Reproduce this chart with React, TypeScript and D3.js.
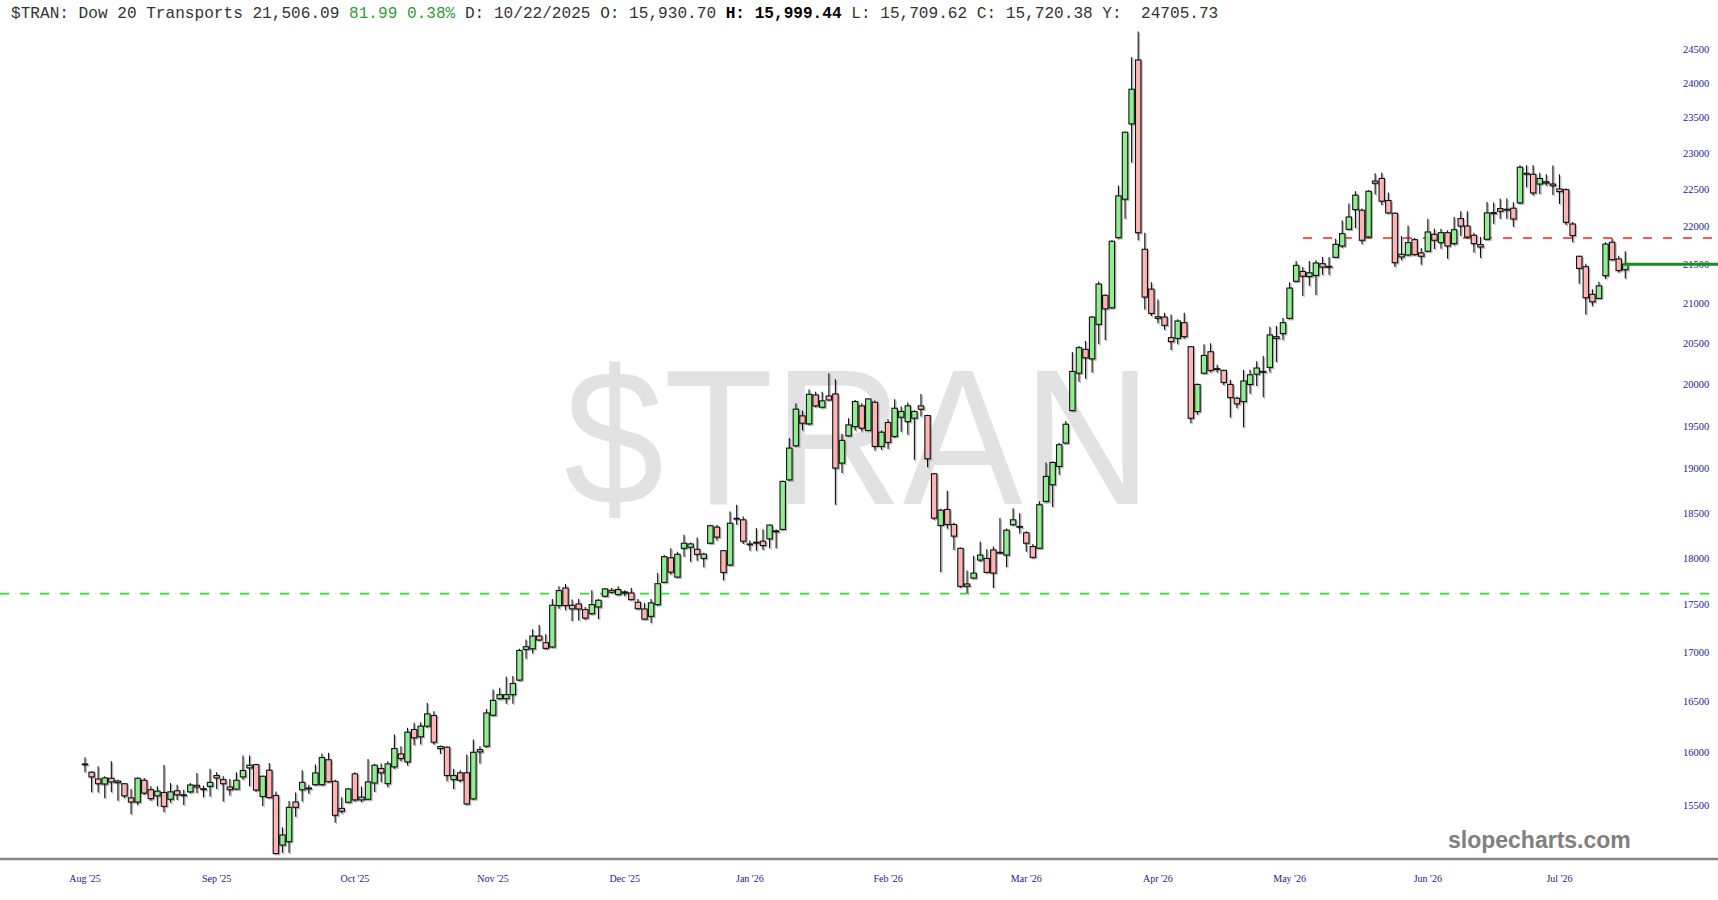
import * as d3 from "d3";
import { useEffect, useRef } from "react";

// daily OHLC, oldest first
const opens = [
  15890, 15811, 15746, 15698, 15753, 15727, 15701, 15567, 15528, 15734,
  15644, 15586, 15618, 15554, 15634, 15596, 15624, 15686, 15653, 15676,
  15779, 15740, 15670, 15650, 15766, 15852, 15884, 15580, 15830, 15589,
  15128, 15160, 15528, 15644, 15660, 15692, 15692, 15930.7, 15724, 15468,
  15526, 15795, 15548, 15554, 15708, 15846, 15702, 15862, 15987, 15910,
  16225, 16154, 16258, 16363, 16039, 16052, 15740, 15805, 15805, 15558,
  16007, 16062, 16366, 16531, 16531, 16571, 16718, 17031, 17038, 17170,
  17101, 17056, 17490, 17677, 17493, 17507, 17447, 17404, 17475, 17589,
  17652, 17607, 17624, 17624, 17525, 17454, 17376, 17500, 17737, 18004,
  17794, 18107, 18118, 18096, 17996, 18163, 18341, 18081, 17925, 18439,
  18422, 18155, 18163, 18185, 18211, 18289, 18315, 18873, 19267, 19619,
  19524, 19869, 19722, 19857, 19881, 19066, 19384, 19492, 19738, 19446,
  19781, 19259, 19540, 19376, 19603, 19551, 19591, 19738, 19623, 18943,
  18359, 18538, 18370, 18107, 17695, 17784, 17979, 17996, 18089, 18063,
  18033, 18367, 18348, 18278, 18126, 18107, 18629, 18818, 19027, 19298,
  19682, 20133, 20425, 20308, 20737, 21105, 20946, 21855, 22370, 23414,
  24338, 21701, 21184, 20813, 20829, 20571, 20562, 20758, 20458, 19670,
  20133, 20396, 20188, 20167, 19996, 19830, 19790, 19996, 20121, 20154,
  20204, 20562, 20621, 20812, 21285, 21412, 21346, 21360, 21513, 21478,
  21596, 21745, 21965, 22230, 22221, 21864, 22617, 22653, 22352, 22180,
  21601, 21627, 21829, 21654, 21676, 21899, 21789, 21921, 21776, 22108,
  22009, 21886, 21763, 21833, 22176, 22243, 22234, 22248, 22320, 22723,
  22710, 22576, 22607, 22576, 22509, 22500, 22036, 21610, 21474, 21117,
  21065, 21357, 21794, 21575, 21435,
];

const highs = [
  15955, 15820, 15868, 15773, 15916, 15740, 15708, 15650, 15760, 15756,
  15676, 15676, 15881, 15708, 15692, 15644, 15708, 15804, 15682, 15843,
  15811, 15772, 15746, 15811, 15971, 15971, 15891, 15779, 15900, 15628,
  15292, 15538, 15618, 15830, 15692, 15884, 15990, 15999.44, 15740, 15574,
  15660, 15811, 15676, 15939, 15891, 15894, 15917, 16176, 16062, 16242,
  16291, 16297, 16487, 16405, 16069, 16062, 15843, 15830, 15981, 16128,
  16062, 16428, 16623, 16640, 16752, 16759, 17038, 17135, 17240, 17285,
  17188, 17560, 17695, 17720, 17553, 17560, 17475, 17653, 17560, 17677,
  17677, 17695, 17653, 17677, 17560, 17518, 17560, 17837, 18033, 18107,
  18070, 18255, 18170, 18226, 18059, 18367, 18367, 18089, 18515, 18591,
  18459, 18192, 18330, 18318, 18370, 18315, 18867, 19357, 19770, 19682,
  19936, 19909, 19909, 20133, 20058, 19407, 19591, 19809, 19770, 19829,
  19801, 19446, 19579, 19817, 19730, 19777, 19690, 19881, 19631, 18951,
  18545, 18750, 18389, 18115, 17865, 18026, 18181, 18096, 18126, 18441,
  18326, 18551, 18496, 18296, 18155, 18629, 19073, 19085, 19298, 19559,
  20392, 20467, 20529, 20842, 21281, 21118, 21820, 22557, 23305, 24377,
  24760, 21921, 21272, 21053, 20883, 20862, 20800, 20883, 20467, 20008,
  20488, 20500, 20237, 20175, 20050, 19849, 20175, 20175, 20279, 20342,
  20708, 20717, 20821, 21272, 21548, 21469, 21548, 21557, 21601, 21601,
  21842, 22086, 22311, 22478, 22243, 22491, 22723, 22732, 22460, 22194,
  21877, 22018, 21851, 21719, 22108, 21974, 21974, 21952, 22130, 22207,
  22207, 21921, 21864, 22333, 22324, 22378, 22378, 22329, 22835, 22835,
  22835, 22732, 22709, 22830, 22709, 22518, 22068, 21618, 21513, 21183,
  21278, 21794, 21847, 21618, 21676,
];

const lows = [
  15811, 15621, 15618, 15564, 15621, 15541, 15564, 15413, 15500, 15596,
  15541, 15490, 15431, 15522, 15548, 15500, 15612, 15612, 15573, 15580,
  15650, 15532, 15589, 15641, 15740, 15676, 15628, 15490, 15564, 15051,
  15058, 15058, 15391, 15532, 15605, 15682, 15682, 15709.62, 15334, 15420,
  15516, 15532, 15526, 15548, 15622, 15715, 15667, 15843, 15917, 15875,
  16072, 16078, 16242, 16078, 15987, 15724, 15651, 15715, 15500, 15548,
  15894, 16046, 16356, 16520, 16480, 16480, 16708, 16935, 16990, 17118,
  17031, 17049, 17455, 17440, 17327, 17333, 17340, 17393, 17347, 17582,
  17617, 17596, 17589, 17546, 17447, 17340, 17305, 17489, 17730, 17819,
  17784, 18015, 17961, 17972, 17901, 18155, 18192, 17759, 17915, 18367,
  18155, 18081, 18081, 18089, 18107, 18107, 18307, 18867, 19259, 19446,
  19512, 19722, 19710, 19802, 18591, 18951, 19376, 19446, 19438, 19438,
  19213, 19221, 19229, 19357, 19430, 19396, 19105, 19611, 19019, 18422,
  17848, 18322, 18089, 17677, 17624, 17773, 17961, 17837, 17677, 18052,
  17901, 18360, 18270, 18070, 17996, 18100, 18618, 18565, 18932, 19290,
  19674, 20029, 20067, 20142, 20488, 20542, 20933, 21842, 22108, 22873,
  21820, 20925, 20842, 20750, 20667, 20417, 20488, 20558, 19532, 19631,
  20125, 20142, 20142, 19988, 19599, 19710, 19484, 19884, 19976, 19841,
  20142, 20271, 20541, 20800, 21272, 21096, 21228, 21109, 21368, 21368,
  21588, 21723, 21960, 21982, 21767, 21851, 22433, 22293, 22171, 21469,
  21557, 21614, 21618, 21500, 21667, 21706, 21710, 21579, 21754, 21877,
  21842, 21658, 21588, 21820, 22040, 22108, 22108, 22000, 22306, 22531,
  22419, 22441, 22553, 22428, 22306, 22023, 21794, 21252, 20862, 20967,
  21061, 21313, 21553, 21400, 21322,
];

const closes = [
  15890, 15766, 15701, 15756, 15718, 15711, 15586, 15528, 15753, 15612,
  15560, 15631, 15487, 15624, 15596, 15596, 15689, 15670, 15653, 15714,
  15756, 15701, 15644, 15734, 15827, 15878, 15641, 15772, 15570, 15051,
  15221, 15478, 15478, 15714, 15660, 15804, 15952, 15720.38, 15404, 15442,
  15651, 15548, 15574, 15718, 15878, 15805, 15891, 16039, 15942, 16199,
  16144, 16258, 16379, 16101, 16059, 15779, 15779, 15734, 15510, 16003,
  16029, 16389, 16514, 16571, 16571, 16684, 17021, 17059, 17170, 17129,
  17042, 17493, 17649, 17490, 17455, 17454, 17358, 17500, 17546, 17667,
  17631, 17660, 17635, 17553, 17457, 17347, 17518, 17723, 18015, 17847,
  18041, 18163, 18155, 18041, 18044, 18356, 18230, 17844, 18384, 18439,
  18185, 18155, 18174, 18137, 18363, 18300, 18855, 19240, 19699, 19532,
  19877, 19738, 19798, 19809, 19008, 19330, 19512, 19790, 19473, 19821,
  19259, 19426, 19306, 19710, 19671, 19738, 19671, 19698, 19116, 18441,
  18530, 18370, 18241, 17695, 17720, 17837, 18033, 17844, 17837, 18063,
  18307, 18422, 18348, 18163, 18008, 18591, 18913, 19073, 19279, 19520,
  20154, 20446, 20321, 20829, 21250, 20933, 21807, 22415, 23295, 23910,
  21921, 21083, 20875, 20833, 20725, 20521, 20779, 20583, 19591, 19996,
  20350, 20167, 20188, 20021, 19838, 19762, 20038, 20113, 20196, 20154,
  20604, 20583, 20758, 21198, 21491, 21351, 21395, 21522, 21469, 21478,
  21767, 21908, 22130, 22424, 21820, 22478, 22587, 22343, 22185, 21526,
  21636, 21789, 21632, 21610, 21930, 21820, 21921, 21745, 21960, 22009,
  21864, 21776, 21732, 22185, 22189, 22207, 22234, 22104, 22808, 22723,
  22455, 22652, 22589, 22553, 22473, 22059, 21882, 21452, 21074, 21022,
  21226, 21770, 21566, 21424.1, 21506.09,
];

// x-axis month labels and the candle index each sits on
const monthLabels = ["Aug '25", "Sep '25", "Oct '25", "Nov '25", "Dec '25", "Jan '26", "Feb '26", "Mar '26", "Apr '26", "May '26", "Jun '26", "Jul '26"];
const monthStartIdx = [0, 20, 41, 62, 82, 101, 122, 143, 163, 183, 204, 224];

const priceTicks = [15500, 16000, 16500, 17000, 17500, 18000, 18500, 19000, 19500, 20000, 20500, 21000, 21500, 22000, 22500, 23000, 23500, 24000, 24500];

const supportLevel = 17617;
const resistanceLevel = 21850;
const lastPrice = 21506.09;

export default function App() {
  const ref = useRef<SVGSVGElement | null>(null);

  useEffect(() => {
    if (!ref.current) return;

    const width = 1718;
    const height = 900;
    const svg = d3.select(ref.current);
    svg.selectAll("*").remove();

    const x = d3.scaleLinear().domain([0, closes.length - 1]).range([85, 1625.3]);
    const y = d3.scaleLog().domain([15500, 24500]).range([805, 49]);
    const bw = 5.4; // body width
    const sh = 1.3; // shadow offset

    svg.append("rect").attr("width", width).attr("height", height).attr("fill", "#fff");

    // watermark
    svg
      .append("text")
      .attr("x", 564)
      .attr("y", 504)
      .attr("font-family", "'Liberation Sans', Arial, sans-serif")
      .attr("font-size", 193)
      .attr("fill", "#e2e2e2")
      .attr("textLength", 588)
      .attr("lengthAdjust", "spacingAndGlyphs")
      .text("$TRAN");

    // support / resistance lines
    svg
      .append("line")
      .attr("x1", 0)
      .attr("x2", 1713)
      .attr("y1", y(supportLevel))
      .attr("y2", y(supportLevel))
      .attr("stroke", "#33dd33")
      .attr("stroke-width", 1.6)
      .attr("stroke-dasharray", "9,11");

    svg
      .append("line")
      .attr("x1", 1303)
      .attr("x2", 1713)
      .attr("y1", y(resistanceLevel))
      .attr("y2", y(resistanceLevel))
      .attr("stroke", "#ff2020")
      .attr("stroke-width", 1.4)
      .attr("stroke-dasharray", "9,11");

    // price labels
    svg
      .append("g")
      .selectAll("text")
      .data(priceTicks)
      .join("text")
      .attr("x", 1683)
      .attr("y", (d) => y(d))
      .attr("dy", "0.35em")
      .attr("font-family", "'Liberation Serif', 'Times New Roman', serif")
      .attr("font-size", 10.5)
      .attr("fill", "#1a1a8e")
      .text((d) => String(d));

    const idx = d3.range(closes.length);
    const up = (i: number) => closes[i] >= opens[i];
    const top = (i: number) => y(Math.max(opens[i], closes[i]));
    const bh = (i: number) => Math.max(y(Math.min(opens[i], closes[i])) - top(i), 0.8);

    // shadows
    const shadow = svg.append("g").attr("opacity", 0.55);
    shadow
      .selectAll("line")
      .data(idx)
      .join("line")
      .attr("x1", (i) => x(i) + sh)
      .attr("x2", (i) => x(i) + sh)
      .attr("y1", (i) => y(highs[i]) + sh)
      .attr("y2", (i) => y(lows[i]) + sh)
      .attr("stroke", "#777")
      .attr("stroke-width", 1.2);
    shadow
      .selectAll("rect")
      .data(idx)
      .join("rect")
      .attr("x", (i) => x(i) - bw / 2 + sh)
      .attr("y", (i) => top(i) + sh)
      .attr("width", bw)
      .attr("height", bh)
      .attr("fill", "#777")
      .attr("stroke", "#777")
      .attr("stroke-width", 1);

    // wicks
    svg
      .append("g")
      .selectAll("line")
      .data(idx)
      .join("line")
      .attr("x1", (i) => x(i))
      .attr("x2", (i) => x(i))
      .attr("y1", (i) => y(highs[i]))
      .attr("y2", (i) => y(lows[i]))
      .attr("stroke", "#111")
      .attr("stroke-width", 1.1);

    // bodies
    svg
      .append("g")
      .selectAll("rect")
      .data(idx)
      .join("rect")
      .attr("x", (i) => x(i) - bw / 2)
      .attr("y", top)
      .attr("width", bw)
      .attr("height", bh)
      .attr("fill", (i) => (up(i) ? "#90ee90" : "#ffb4b4"))
      .attr("stroke", "#111")
      .attr("stroke-width", 1.1);

    // last price line
    svg
      .append("line")
      .attr("x1", x(closes.length - 1) - 2)
      .attr("x2", width)
      .attr("y1", y(lastPrice))
      .attr("y2", y(lastPrice))
      .attr("stroke", "#1c8c1c")
      .attr("stroke-width", 3);

    // bottom axis line and month labels
    svg
      .append("line")
      .attr("x1", 0)
      .attr("x2", width)
      .attr("y1", 859)
      .attr("y2", 859)
      .attr("stroke", "#858585")
      .attr("stroke-width", 2.5);

    svg
      .append("g")
      .selectAll("text")
      .data(monthLabels)
      .join("text")
      .attr("x", (_, k) => x(monthStartIdx[k]))
      .attr("y", 878)
      .attr("dy", "0.35em")
      .attr("text-anchor", "middle")
      .attr("font-family", "'Liberation Serif', 'Times New Roman', serif")
      .attr("font-size", 10)
      .attr("fill", "#1a1a8e")
      .text((d) => d);

    // header
    const header = svg
      .append("text")
      .attr("x", 11)
      .attr("y", 18)
      .attr("font-family", "'Liberation Mono', 'DejaVu Sans Mono', monospace")
      .attr("font-size", 16.1)
      .attr("fill", "#333")
      .attr("xml:space", "preserve")
      .style("white-space", "pre");
    header.append("tspan").text("$TRAN: Dow 20 Transports 21,506.09 ");
    header.append("tspan").attr("fill", "#2f9e2f").text("81.99 0.38%");
    header.append("tspan").text(" D: 10/22/2025 O: 15,930.70 ");
    header.append("tspan").attr("font-weight", "bold").attr("fill", "#000").text("H: 15,999.44");
    header.append("tspan").text(" L: 15,709.62 C: 15,720.38 Y:  24705.73");

    // brand
    svg
      .append("text")
      .attr("x", 1448)
      .attr("y", 848)
      .attr("font-family", "'Liberation Sans', Arial, sans-serif")
      .attr("font-weight", "bold")
      .attr("font-size", 23)
      .attr("fill", "#808080")
      .text("slopecharts.com");
  }, []);

  return (
    <svg
      ref={ref}
      width={1718}
      height={900}
      style={{ position: "absolute", left: 0, top: 0, display: "block" }}
    ></svg>
  );
}
